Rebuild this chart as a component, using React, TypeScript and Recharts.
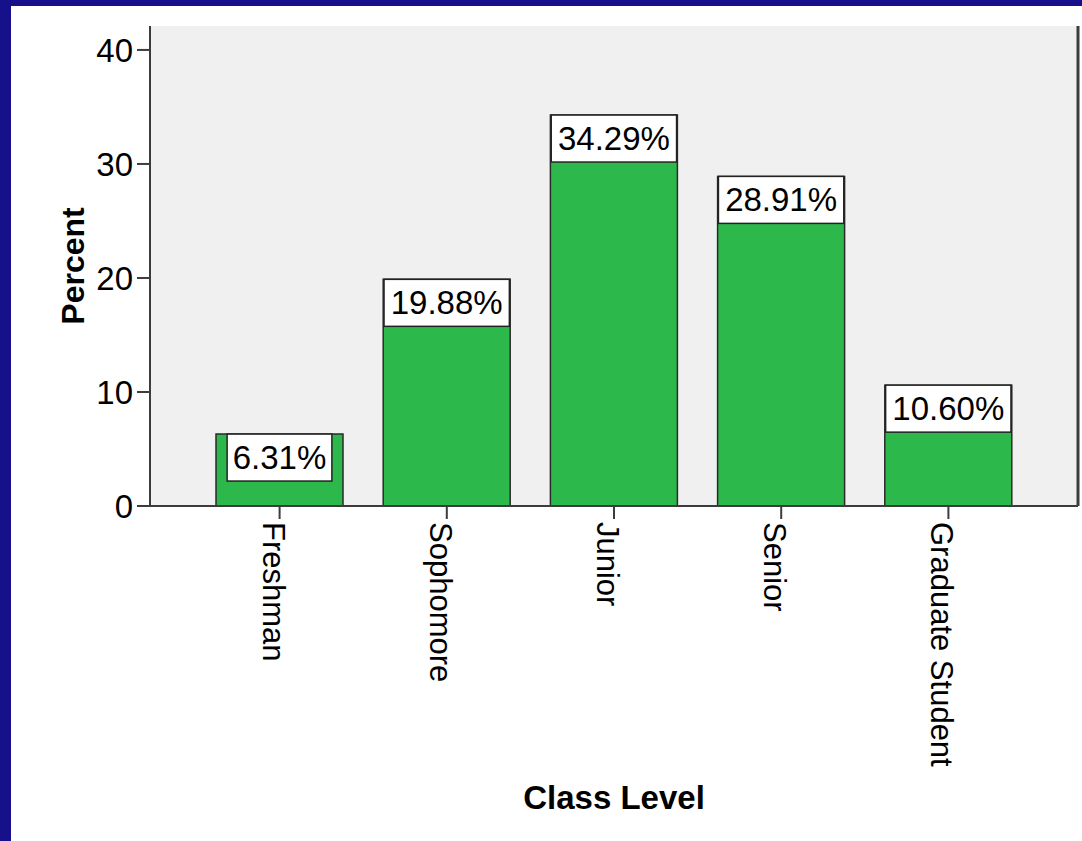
import React from "react";
import { BarChart, Bar, XAxis, YAxis, CartesianGrid, LabelList } from "recharts";

const classLevels = ["Freshman", "Sophomore", "Junior", "Senior", "Graduate Student"];
const percentValues = [6.31, 19.88, 34.29, 28.91, 10.6];
const yTicks = [0, 10, 20, 30, 40];

const data = classLevels.map((level, i) => ({ level, percent: percentValues[i] }));

const FONT = '"Liberation Sans", Arial, sans-serif';
const NAVY = "#16108a";
const EDGE = "#3c3c3c";

// rough Arial advance widths, used to size the value boxes
const charWidth = (c: string) => (c === "." ? 0.278 : c === "%" ? 0.889 : 0.556);

const CategoryTick = (props: any) => {
  const { x, y, payload } = props;
  return (
    <text
      x={x}
      y={y}
      dx={1}
      dy={17}
      transform={`rotate(90, ${x}, ${y})`}
      fontSize={31}
      fontFamily={FONT}
      fill="#000"
    >
      {payload.value}
    </text>
  );
};

const ValueBox = (props: any) => {
  const x = Number(props.x);
  const y = Number(props.y);
  const width = Number(props.width);
  const text = `${Number(props.value).toFixed(2)}%`;
  const fontSize = 33;
  const textW = text.split("").reduce((s, c) => s + charWidth(c), 0) * fontSize;
  const boxW = Math.min(width, textW * 1.12);
  const cx = x + width / 2;
  return (
    <g>
      <rect x={cx - boxW / 2} y={y} width={boxW} height={47} fill="#fff" stroke="#222" strokeWidth={1.5} />
      <text x={cx} y={y + 35} textAnchor="middle" fontSize={fontSize} fontFamily={FONT} fill="#000">
        {text}
      </text>
    </g>
  );
};

export default function App() {
  return (
    <div style={{ position: "absolute", left: 0, top: 0, width: 1082, height: 841, background: NAVY }}>
      <div style={{ position: "absolute", left: 11, top: 6, right: 0, bottom: 0, background: "#fff" }} />
      <div style={{ position: "absolute", left: 0, top: 0 }}>
        <BarChart width={1082} height={841} data={data} margin={{ top: 26, right: 0, left: 0, bottom: 0 }}>
          <CartesianGrid horizontal={false} vertical={false} fill="#f0f0f0" />
          <XAxis
            dataKey="level"
            height={335}
            padding={{ left: 46, right: 46 }}
            axisLine={{ stroke: EDGE, strokeWidth: 2 }}
            tickLine={{ stroke: EDGE, strokeWidth: 2 }}
            tickSize={13}
            interval={0}
            tick={<CategoryTick />}
            label={{
              value: "Class Level",
              position: "insideBottom",
              offset: 32,
              fontSize: 33,
              fontWeight: "bold",
              fontFamily: FONT,
              fill: "#000",
            }}
          />
          <XAxis xAxisId="top" dataKey="level" orientation="top" height={0} tick={false} tickLine={false} axisLine={{ stroke: EDGE, strokeWidth: 2 }} />
          <YAxis
            width={150}
            domain={[0, 42.1]}
            ticks={yTicks}
            allowDataOverflow
            axisLine={{ stroke: EDGE, strokeWidth: 2 }}
            tickLine={{ stroke: EDGE, strokeWidth: 2 }}
            tickSize={13}
            tickMargin={4}
            tick={{ fontSize: 33, fontFamily: FONT, fill: "#000" }}
            label={{
              value: "Percent",
              angle: -90,
              position: "center",
              dx: -2,
              fontSize: 32,
              fontWeight: "bold",
              fontFamily: FONT,
              fill: "#000",
            }}
          />
          <YAxis yAxisId="right" orientation="right" width={4} tick={false} tickLine={false} axisLine={{ stroke: EDGE, strokeWidth: 3 }} />
          <Bar dataKey="percent" barSize={127} fill="#2db84b" stroke="#2a2a2a" strokeWidth={1.5} isAnimationActive={false}>
            <LabelList dataKey="percent" content={<ValueBox />} />
          </Bar>
        </BarChart>
      </div>
    </div>
  );
}
